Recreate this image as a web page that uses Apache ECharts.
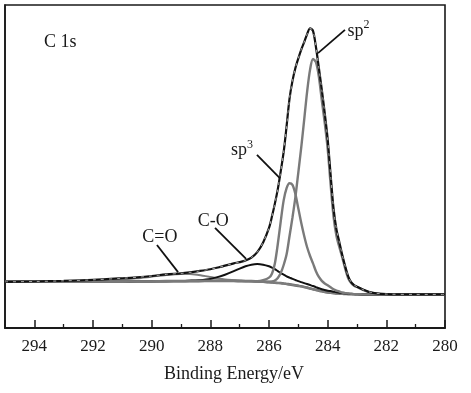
<!DOCTYPE html>
<html>
<head>
<meta charset="utf-8">
<script src="https://cdn.jsdelivr.net/npm/echarts@6/dist/echarts.min.js"></script>
<style>
html,body{margin:0;padding:0;background:#fff;}
#chart{width:471px;height:393px;}
</style>
</head>
<body>
<div id="chart"></div>
<script>
// Binding energy grid (eV)
const energy = [295, 294, 293, 292, 291, 290.5, 290, 289.5, 289, 288.7, 288.4, 288, 287.7, 287.5, 287.2, 287, 286.8, 286.6, 286.4, 286.2, 286,
  285.9, 285.8, 285.7, 285.6, 285.5, 285.4, 285.3, 285.2, 285.1, 285,
  284.9, 284.8, 284.7, 284.6, 284.5, 284.4, 284.3, 284.2, 284.1, 284,
  283.9, 283.8, 283.7, 283.6, 283.5, 283.4, 283.3, 283.2, 283.1, 283,
  282.8, 282.6, 282.4, 282, 281, 280];

const background = [14.3,14.3,14.35,14.4,14.4,14.45,14.45,14.5,14.5,14.55,14.55,14.6,14.6,14.6,14.6,14.55,14.5,14.5,14.4,14.3,14.2,
  14.1,14.0,13.95,13.9,13.8,13.65,13.5,13.35,13.2,13.05,
  12.9,12.7,12.5,12.25,12.0,11.8,11.55,11.35,11.15,11.0,
  10.9,10.8,10.7,10.65,10.6,10.55,10.5,10.5,10.45,10.45,
  10.4,10.4,10.4,10.4,10.4,10.4];

const peakCdO = [14.3,14.35,14.45,14.6,15.0,15.4,15.9,16.4,16.7,16.7,16.4,15.8,15.3,15.05,14.8,14.65,14.55,14.5,14.4,14.3,14.2,
  14.1,14.0,13.95,13.9,13.8,13.65,13.5,13.35,13.2,13.05,
  12.9,12.7,12.5,12.25,12.0,11.8,11.55,11.35,11.15,11.0,
  10.9,10.8,10.7,10.65,10.6,10.55,10.5,10.5,10.45,10.45,
  10.4,10.4,10.4,10.4,10.4,10.4];

const peakCO = [14.3,14.3,14.35,14.4,14.4,14.45,14.45,14.5,
  14.55,14.65,14.8,15.2,15.9,16.5,17.6,18.4,19.1,19.6,19.8,19.6,19.1,
  18.7,18.2,17.6,17.0,16.5,16.0,15.6,15.2,14.85,14.5,
  14.2,13.9,13.6,13.3,13.0,12.65,12.3,12.0,11.75,11.5,
  11.45,11.25,11.05,10.9,10.8,10.7,10.6,10.55,10.5,10.45,
  10.4,10.4,10.4,10.4,10.4,10.4];

const peakSp3 = [14.3,14.3,14.35,14.4,14.4,14.45,14.45,14.5,14.5,14.55,14.55,14.6,14.6,14.6,14.6,14.55,14.5,14.5,
  14.5,14.8,15.6,
  16.8,20.0,26.0,33.0,39.5,43.3,44.8,44.3,41.5,37.0,
  32.5,28.5,25.0,22.3,20.0,17.6,15.8,14.6,13.8,13.2,
  12.6,12.0,11.6,11.3,11.0,10.8,10.7,10.6,10.5,10.5,
  10.4,10.4,10.4,10.4,10.4,10.4];

const peakSp2 = [14.3,14.3,14.35,14.4,14.4,14.45,14.45,14.5,14.5,14.55,14.55,14.6,14.6,14.6,14.6,14.55,14.5,14.5,14.4,
  14.3,14.35,
  14.4,14.7,15.5,17.0,19.5,22.8,28.5,34.2,40.5,48.2,
  56.0,64.5,73.2,80.0,83.3,82.3,77.8,70.5,63.5,55.5,
  44.5,34.5,28.5,25.0,21.8,18.3,15.4,13.9,13.1,12.7,
  11.8,11.1,10.7,10.45,10.4,10.4];

const envelope = [14.3,14.4,14.6,14.9,15.4,15.7,16.1,16.6,16.9,17.2,17.6,18.2,18.8,19.3,20.0,20.4,20.9,21.8,23.5,26.5,31.0,
  34.5,38.5,43.0,48.5,54.5,62.5,71.0,76.5,80.5,83.5,
  86.2,88.5,91.0,92.8,92.0,87.0,80.5,73.8,66.5,58.5,
  47.5,37.0,30.5,26.5,22.5,19.0,16.0,14.2,13.3,12.8,
  11.9,11.2,10.8,10.5,10.4,10.4];

// annotations: [text, energy, intensity]
const noteTexts = ['{a|C 1s}', '{a|sp}{b|2}', '{a|sp}{b|3}', '{a|C-O}', '{a|C=O}'];
const noteE = [293.12, 282.95, 286.92, 287.9, 289.72];
const noteV = [88.5, 92.0, 55.0, 33.1, 28.2];
// arrows: start (E,v) -> end (E,v)
const arrowFrom = [[283.41, 92.3], [286.41, 53.6], [287.84, 31.0], [289.82, 25.7]];
const arrowTo = [[284.33, 85.1], [285.63, 46.4], [286.78, 21.4], [289.10, 17.3]];

const pairs = arr => energy.map((e, i) => [e, arr[i]]);
const serif = 'Liberation Serif';

function lineSeries(name, arr, color, width, extra) {
  return Object.assign({
    name: name, type: 'line', data: pairs(arr), showSymbol: false, symbol: 'none',
    smooth: 0.3, lineStyle: { color: color, width: width }, silent: true, z: 2
  }, extra || {});
}

const chart = echarts.init(document.getElementById('chart'), null, { renderer: 'canvas' });
chart.setOption({
  animation: false,
  backgroundColor: '#fff',
  grid: { left: 5, right: 26, top: 5, bottom: 65, show: true, borderColor: '#1a1a1a', borderWidth: 1.6 },
  xAxis: {
    type: 'value', min: 280, max: 295, interval: 2, inverse: true,
    name: 'Binding Energy/eV', nameLocation: 'middle', nameGap: 37,
    nameTextStyle: { fontFamily: serif, fontSize: 18, color: '#1a1a1a', padding: [0, 0, 0, 18] },
    axisLine: { show: true, lineStyle: { color: '#1a1a1a', width: 1.8 } },
    axisTick: { show: true, inside: true, length: 8, lineStyle: { color: '#1a1a1a', width: 1.5 } },
    minorTick: { show: true, splitNumber: 2, length: 4, lineStyle: { color: '#1a1a1a', width: 1.3 } },
    splitLine: { show: false }, minorSplitLine: { show: false },
    axisLabel: {
      fontFamily: serif, fontSize: 17, color: '#1a1a1a', margin: 10,
      formatter: v => (v % 2 === 0 ? String(v) : '')
    }
  },
  yAxis: {
    type: 'value', min: 0, max: 100,
    axisLine: { show: true, lineStyle: { color: '#1a1a1a', width: 1.6 } },
    axisTick: { show: false }, axisLabel: { show: false }, splitLine: { show: false }
  },
  series: [
    lineSeries('background', background, '#6b6b6b', 2.6, {
      markLine: {
        silent: true, symbol: ['none', 'arrow'], symbolSize: [0, 9],
        lineStyle: { color: '#111', width: 1.8, type: 'solid' },
        label: { show: false },
        data: arrowFrom.map((a, i) => [{ coord: a }, { coord: arrowTo[i] }])
      },
      markPoint: {
        silent: true, symbol: 'circle', symbolSize: 0,
        label: {
          show: true, position: 'inside', color: '#1a1a1a',
          rich: {
            a: { fontFamily: serif, fontSize: 18, color: '#1a1a1a', lineHeight: 24 },
            b: { fontFamily: serif, fontSize: 12, color: '#1a1a1a', verticalAlign: 'top' }
          }
        },
        data: noteTexts.map((t, i) => ({ coord: [noteE[i], noteV[i]], value: 0, label: { formatter: t } }))
      }
    }),
    lineSeries('C=O', peakCdO, '#7d7d7d', 2.0),
    lineSeries('C-O', peakCO, '#111', 2.0),
    lineSeries('sp3', peakSp3, '#7a7a7a', 2.4),
    lineSeries('sp2', peakSp2, '#7a7a7a', 2.4),
    lineSeries('envelope', envelope, '#111', 2.2, { z: 3 }),
    lineSeries('fit', envelope, '#b0b0b0', 1.0, { z: 4, lineStyle: { color: '#a8a8a8', width: 1.0, type: [3, 5] } })
  ]
});
</script>
</body>
</html>
